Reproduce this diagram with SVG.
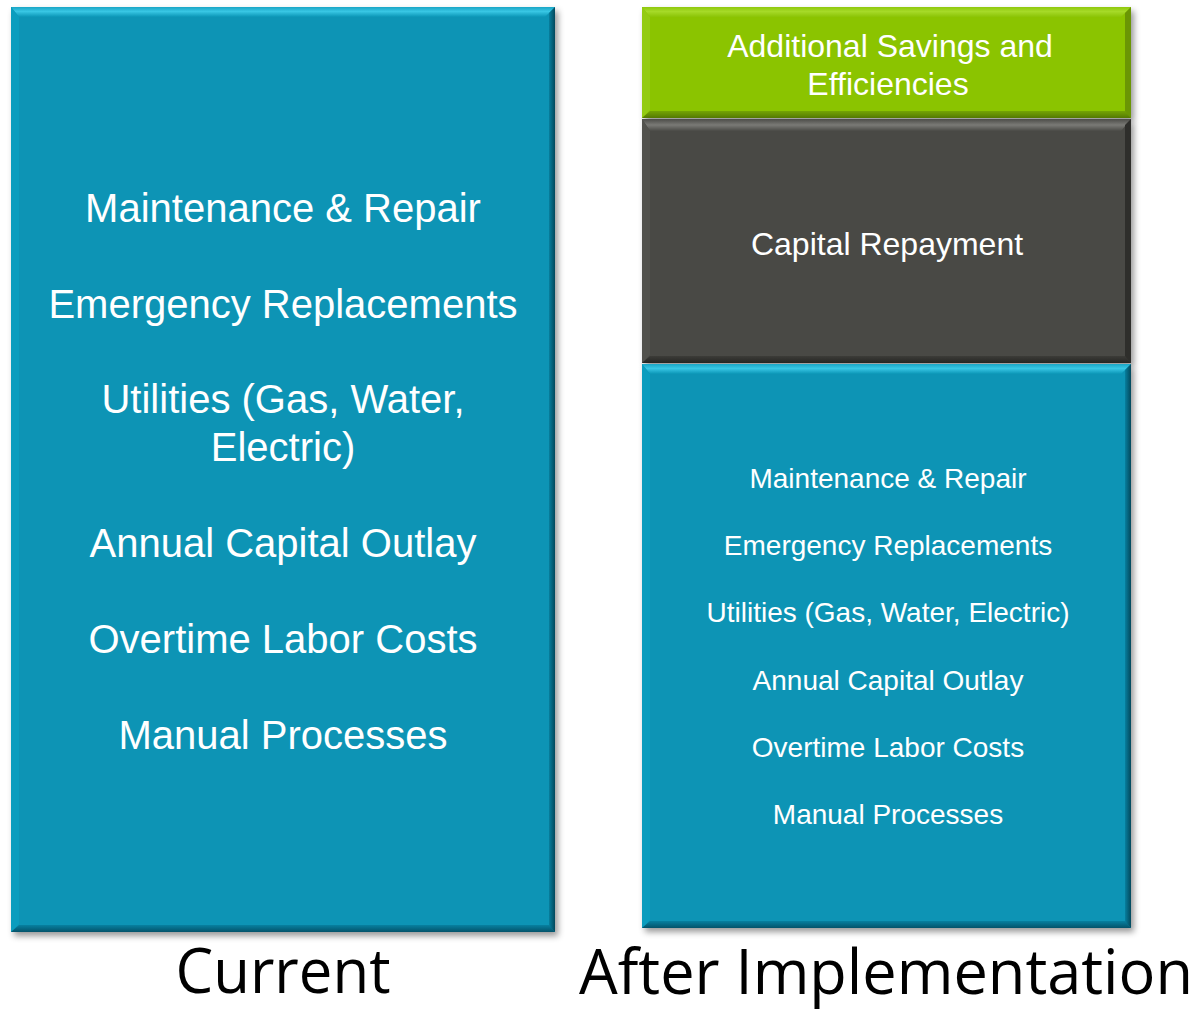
<svg xmlns="http://www.w3.org/2000/svg" width="1201" height="1009" viewBox="0 0 1201 1009">
<defs>
<filter id="sh" x="-5%" y="-5%" width="115%" height="115%">
<feDropShadow dx="3" dy="4" stdDeviation="3" flood-color="#000" flood-opacity="0.4"/>
</filter>
<linearGradient id="topB" x1="0" y1="0" x2="0" y2="1">
<stop offset="0" stop-color="#1aa6c6"/>
<stop offset="0.45" stop-color="#38c6e4"/>
<stop offset="1" stop-color="#0a95b6"/>
</linearGradient>
<linearGradient id="botB" x1="0" y1="0" x2="0" y2="1">
<stop offset="0" stop-color="#0780a0"/>
<stop offset="1" stop-color="#04536a"/>
</linearGradient>
<linearGradient id="rgtB" x1="0" y1="0" x2="1" y2="0">
<stop offset="0" stop-color="#077f9e"/>
<stop offset="1" stop-color="#03485c"/>
</linearGradient>
<linearGradient id="topG" x1="0" y1="0" x2="0" y2="1">
<stop offset="0" stop-color="#8fc80c"/>
<stop offset="0.45" stop-color="#a6da28"/>
<stop offset="1" stop-color="#8bc406"/>
</linearGradient>
<linearGradient id="botG" x1="0" y1="0" x2="0" y2="1">
<stop offset="0" stop-color="#74a404"/>
<stop offset="1" stop-color="#557a02"/>
</linearGradient>
<linearGradient id="topD" x1="0" y1="0" x2="0" y2="1">
<stop offset="0" stop-color="#4c4c48"/>
<stop offset="0.5" stop-color="#7a7a76"/>
<stop offset="1" stop-color="#4a4a46"/>
</linearGradient>
<linearGradient id="botD" x1="0" y1="0" x2="0" y2="1">
<stop offset="0" stop-color="#3c3c38"/>
<stop offset="1" stop-color="#262624"/>
</linearGradient>
</defs>
<style>
.bt{font-family:"Liberation Sans",Arial,sans-serif;fill:#ffffff;text-anchor:middle}
.lb{font-family:"Open Sans","Noto Sans",sans-serif;fill:#000000;text-anchor:middle}
</style>
<g id="current-box">
<rect x="11" y="7" width="544" height="925" fill="#0894b5" filter="url(#sh)"/>
<polygon points="11,7 555,7 545,17 19,17" fill="url(#topB)"/>
<polygon points="11,7 19,17 19,924 11,932" fill="#0b9dbe"/>
<polygon points="555,7 555,932 549,926 549,13" fill="url(#rgtB)"/>
<polygon points="11,932 555,932 549,925 19,925" fill="url(#botB)"/>
<text class="bt" font-size="40" x="283" y="222">Maintenance &amp; Repair</text>
<text class="bt" font-size="40" x="283" y="318">Emergency Replacements</text>
<text class="bt" font-size="40" x="283" y="413">Utilities (Gas, Water,</text>
<text class="bt" font-size="40" x="283" y="461">Electric)</text>
<text class="bt" font-size="40" x="283" y="557">Annual Capital Outlay</text>
<text class="bt" font-size="40" x="283" y="653">Overtime Labor Costs</text>
<text class="bt" font-size="40" x="283" y="749">Manual Processes</text>
</g>
<g id="savings-box">
<rect x="642" y="7" width="489" height="111" fill="#8bc406" filter="url(#sh)"/>
<polygon points="642,7 1131,7 1121,17 650,17" fill="url(#topG)"/>
<polygon points="642,7 650,17 650,110 642,118" fill="#93cb12"/>
<polygon points="1131,7 1131,118 1125,112 1125,13" fill="#6a9604"/>
<polygon points="642,118 1131,118 1125,111 650,111" fill="url(#botG)"/>
<text class="bt" font-size="32" x="890" y="57">Additional Savings and</text>
<text class="bt" font-size="32" x="888" y="95">Efficiencies</text>
</g>
<g id="repayment-box">
<rect x="642" y="119" width="489" height="244" fill="#4a4a45" filter="url(#sh)"/>
<polygon points="642,119 1131,119 1121,131 650,131" fill="url(#topD)"/>
<polygon points="642,119 650,131 650,355 642,363" fill="#52524d"/>
<polygon points="1131,119 1131,363 1125,357 1125,125" fill="#2e2e2b"/>
<polygon points="642,363 1131,363 1125,356 650,356" fill="url(#botD)"/>
<text class="bt" font-size="32" x="887" y="255">Capital Repayment</text>
</g>
<g id="after-box">
<rect x="642" y="364" width="489" height="564" fill="#0894b5" filter="url(#sh)"/>
<polygon points="642,364 1131,364 1121,374 650,374" fill="url(#topB)"/>
<polygon points="642,364 650,374 650,920 642,928" fill="#0b9dbe"/>
<polygon points="1131,364 1131,928 1125,922 1125,370" fill="url(#rgtB)"/>
<polygon points="642,928 1131,928 1125,921 650,921" fill="url(#botB)"/>
<text class="bt" font-size="28" x="888" y="488">Maintenance &amp; Repair</text>
<text class="bt" font-size="28" x="888" y="555">Emergency Replacements</text>
<text class="bt" font-size="28" x="888" y="622">Utilities (Gas, Water, Electric)</text>
<text class="bt" font-size="28" x="888" y="690">Annual Capital Outlay</text>
<text class="bt" font-size="28" x="888" y="757">Overtime Labor Costs</text>
<text class="bt" font-size="28" x="888" y="824">Manual Processes</text>
</g>
<g id="connectors"></g>
<g id="labels">
<text class="lb" font-size="63" x="283" y="993" textLength="215" lengthAdjust="spacingAndGlyphs">Current</text>
<text class="lb" font-size="62" x="886" y="994" textLength="614" lengthAdjust="spacingAndGlyphs">After Implementation</text>
</g>
</svg>
